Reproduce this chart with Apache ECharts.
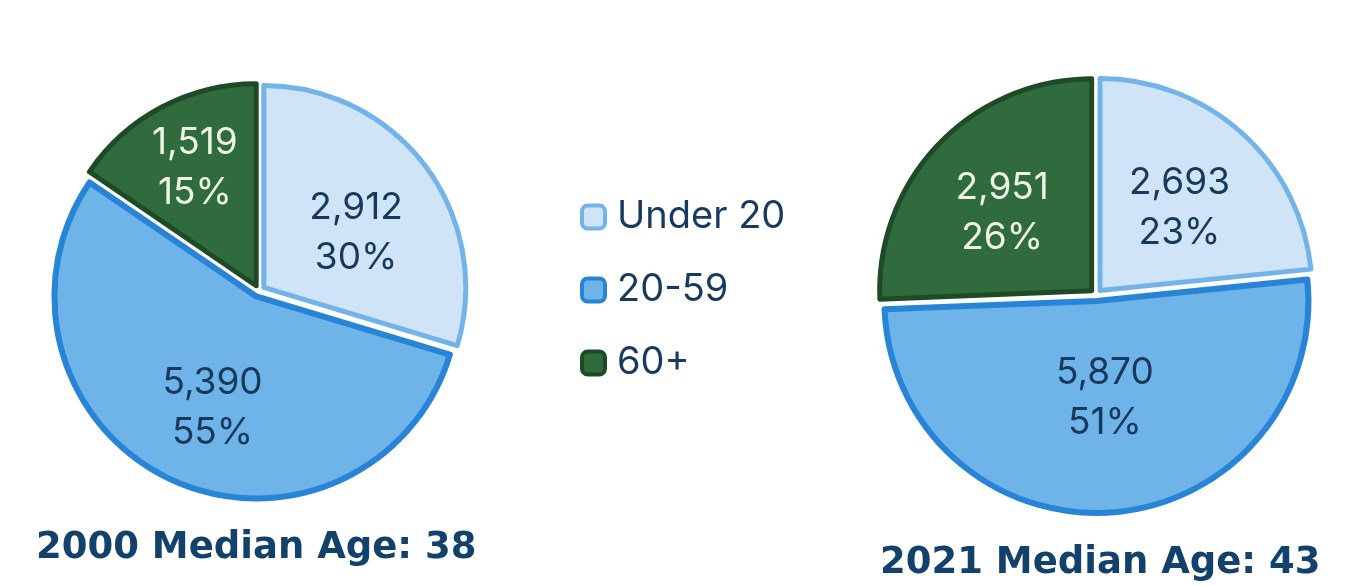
<!DOCTYPE html>
<html><head><meta charset="utf-8">
<script src="https://cdn.jsdelivr.net/npm/echarts@6/dist/echarts.min.js"></script>
<style>html,body{margin:0;padding:0;background:#fff}#c{width:1347px;height:586px}</style>
</head><body><div id="c"></div>
<script>
// ---- data ----
const categories = ['Under 20', '20-59', '60+'];
const values2000 = [2912, 5390, 1519];
const values2021 = [2693, 5870, 2951];
const titles = ['2000 Median Age: 38', '2021 Median Age: 43'];

// ---- styles ----
const fillColors = ['#cfe4f7', '#6fb4e9', '#2f6b3d'];
const borderColors = ['#72b4ea', '#2784d6', '#1e4a26'];
const labelColors = ['#17395c', '#17395c', '#eef3e4'];
const borderWidths = [5, 6, 5];
const labelFont = 'Inter, "Liberation Sans", sans-serif';
// small label nudges (style only), per category, for each chart
const labelNudge2000 = [[-8, 20], [10, -1], [-3, -7]];
const labelNudge2021 = [[-1, 6], [0, -23], [-3, 5]];

function pieData(values, visible) {
  return categories.map((name, i) => {
    const style = visible
      ? { color: fillColors[i], borderColor: borderColors[i], borderWidth: borderWidths[i] }
      : { color: 'rgba(0,0,0,0)', borderWidth: 0 };
    return {
      name, value: values[i], selected: true,
      itemStyle: style,
      select: { itemStyle: style },
      label: { color: labelColors[i] }
    };
  });
}

function pieSeries(values, center, radius, labelInner, nudges) {
  return [
    {
      type: 'pie', center, radius: [0, radius], startAngle: 90, clockwise: true,
      selectedMode: 'multiple', selectedOffset: 6, avoidLabelOverlap: false,
      label: { show: false }, labelLine: { show: false },
      emphasis: { disabled: true },
      data: pieData(values, true), z: 2
    },
    {
      type: 'pie', center, radius: [labelInner, radius], startAngle: 90, clockwise: true,
      selectedMode: 'multiple', selectedOffset: 6, avoidLabelOverlap: false, silent: true,
      labelLine: { show: false },
      emphasis: { disabled: true },
      label: {
        show: true, position: 'inside', fontFamily: labelFont, fontSize: 37,
        lineHeight: 50, fontWeight: 'normal', align: 'center',
        formatter: p => p.value.toLocaleString('en-US') + '\n' + Math.round(p.percent) + '%'
      },
      labelLayout: p => ({ dx: nudges[p.dataIndex][0], dy: nudges[p.dataIndex][1] }),
      data: pieData(values, false), z: 3
    }
  ];
}

const titleStyle = { fontFamily: '"DejaVu Sans", sans-serif', fontWeight: 'bold', fontSize: 37, lineHeight: 37, color: '#12416b' };

const chart = echarts.init(document.getElementById('c'), null, { renderer: 'canvas' });
chart.setOption({
  animation: false,
  backgroundColor: '#ffffff',
  title: [
    { text: titles[0], left: 36, top: 530, padding: 0, textStyle: titleStyle },
    { text: titles[1], left: 880, top: 545, padding: 0, textStyle: titleStyle }
  ],
  legend: {
    orient: 'vertical', left: 580, top: 197, padding: 0, data: categories,
    icon: 'roundRect', itemWidth: 23, itemHeight: 23, itemGap: 33,
    selectedMode: false,
    itemStyle: { borderWidth: 4 },
    textStyle: { fontFamily: labelFont, fontSize: 38, lineHeight: 40, color: '#173a5e', padding: [0, 0, 0, 7] }
  },
  series: [
    ...pieSeries(values2000, [259, 291], 202, 42, labelNudge2000),
    ...pieSeries(values2021, [1096, 295], 212, 22, labelNudge2021)
  ]
});
</script>
</body></html>
